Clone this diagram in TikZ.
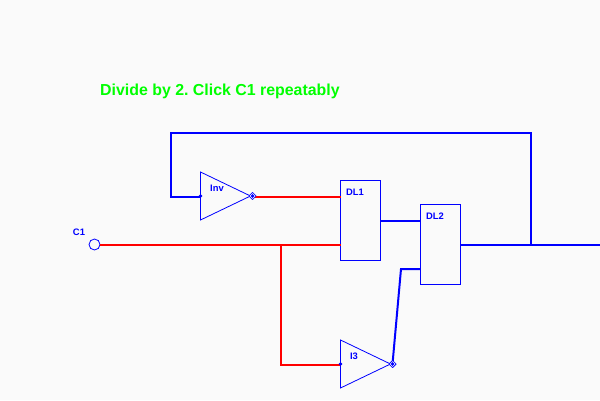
\documentclass[tikz,border=0pt]{standalone}
\usepackage{fontspec}
\setmainfont{Liberation Sans}
\usetikzlibrary{shapes, positioning}
\usepackage{xcolor}
\definecolor{wireblue}{RGB}{0,0,255}
\definecolor{wirered}{RGB}{255,0,0}
\definecolor{titlegreen}{RGB}{0,255,0}
\definecolor{sheetgray}{RGB}{250,250,250}
\tikzset{dlnode/.style={rectangle, draw=wireblue, line width=1pt, minimum width=40pt, minimum height=80pt, inner sep=0pt, outer sep=0pt},
invnode/.style={isosceles triangle, isosceles triangle stretches, draw=wireblue, line width=0.8pt, minimum width=48pt, minimum height=50pt, inner sep=0pt, outer sep=0pt, anchor=lower side},
pinnode/.style={diamond, draw=wireblue, fill=wireblue, line width=0.5pt, minimum size=3pt, inner sep=0pt, outer sep=0pt},
bubblenode/.style={diamond, draw=wireblue, line width=0.7pt, minimum size=7pt, inner sep=0pt, outer sep=0pt},
clocknode/.style={circle, draw=wireblue, line width=0.8pt, fill=sheetgray, minimum size=11pt, inner sep=0pt, outer sep=0pt},
namenode/.style={text=wireblue, font=\bfseries\fontsize{9.4}{10}\selectfont, inner sep=0pt},
bluewire/.style={wireblue, line width=2pt},
redwire/.style={wirered, line width=2pt}}
\begin{document}
\frenchspacing
\begin{tikzpicture}[line join=miter]
        % Sheet
        \fill[sheetgray] (0pt, 0pt) rectangle (600pt, 400pt);
        \useasboundingbox (0pt, 0pt) rectangle (600pt, 400pt);
        % Title
        \node[anchor=west, text=titlegreen, font=\bfseries\fontsize{15.9}{17}\selectfont, inner sep=0pt] (title) at (100pt, 309pt) {Divide by 2. Click C1 repeatably};
        % Gates
        \node[invnode] (inv) at (200.5pt, 204pt) {};
        \node[invnode] (ithree) at (340.5pt, 36pt) {};
        \node[dlnode] (dlone) at (360.5pt, 179.5pt) {};
        \node[dlnode] (dltwo) at (440.5pt, 155.5pt) {};
        % Connection points
        \coordinate (clockout) at (100pt, 155pt);
        \coordinate (branch) at (281pt, 155pt);
        \coordinate (branchlow) at (281pt, 35pt);
        \coordinate (dltwoout) at (600pt, 155pt);
        \coordinate (feedback) at (531pt, 155pt);
        \coordinate (feedtopright) at (531pt, 267pt);
        \coordinate (feedtopleft) at (171pt, 267pt);
        \coordinate (feedlow) at (171pt, 203pt);
        \coordinate (ithreeup) at (401pt, 131pt);
        % Lines
        \draw[bluewire] (feedback) -- (feedtopright) -- (feedtopleft) -- (feedlow) -- (inv.lower side |- feedlow);
        \draw[bluewire] (dltwo.east |- dltwoout) -- (dltwoout);
        \draw[bluewire] (dlone.east |- 0pt, 179pt) -- (dltwo.west |- 0pt, 179pt);
        \node[clocknode] (cone) at (94.5pt, 155.5pt) {};
        \node[bubblenode] (invbubble) at (252.5pt, 204pt) {};
        \node[bubblenode] (ithreebubble) at (392.5pt, 36pt) {};
        \draw[redwire] (invbubble.center |- feedlow) -- (dlone.west |- feedlow);
        \draw[redwire] (cone.east |- clockout) -- (dlone.west |- clockout);
        \draw[redwire] (branch) -- (branchlow) -- (ithree.lower side |- branchlow);
        \draw[bluewire] (ithreebubble.center) -- (ithreeup) -- (dltwo.west |- ithreeup);
        % Pins
        \node[bubblenode, fill=sheetgray] (invcap) at (252.5pt, 204pt) {};
        \node[bubblenode, fill=sheetgray] (ithreecap) at (392.5pt, 36pt) {};
        \node[pinnode] (invcore) at (252.5pt, 204pt) {};
        \node[pinnode] (ithreecore) at (392.5pt, 36pt) {};
        \node[pinnode] (invpin) at (200.5pt, 204pt) {};
        \node[pinnode] (ithreepin) at (340.5pt, 36pt) {};
        % Names
        \node[namenode] (invname) at (217pt, 212pt) {Inv};
        \node[namenode] (ithreename) at (354pt, 44pt) {I3};
        \node[namenode] (dlonename) at (355pt, 208pt) {DL1};
        \node[namenode] (dltwoname) at (435pt, 184pt) {DL2};
        \node[namenode] (conename) at (79pt, 167.5pt) {C1};
    \end{tikzpicture}
\end{document}
